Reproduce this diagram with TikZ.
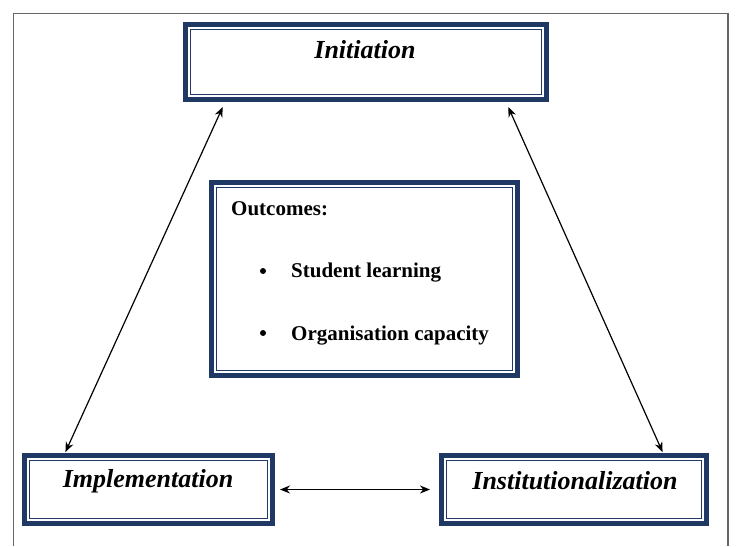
\documentclass[tikz,border=0pt]{standalone}
\usepackage{fontspec}
\setmainfont{Liberation Serif}
\usetikzlibrary{arrows.meta}
\definecolor{navy}{HTML}{1F3864}
\definecolor{framegray}{HTML}{666666}
\tikzset{
  stagebox/.style={draw=navy,line width=5pt,fill=white,inner sep=0pt},
  innerline/.style={draw=navy,line width=1.2pt},
  stagetext/.style={font=\fontsize{26}{30}\selectfont\bfseries\itshape},
  outtext/.style={font=\fontsize{21}{25}\selectfont\bfseries,anchor=base west,inner sep=0pt},
  link/.style={<->,line width=1.2pt}
}
\begin{document}
\begin{tikzpicture}[x=1pt,y=-1pt,>={Stealth[length=10pt,width=8pt]}]
    \useasboundingbox (0,0) rectangle (736,546);
    \draw[framegray,line width=1.5pt](13.5,546)--(13.5,13.5)--(728,13.5)--(728,546);
    % boxes
    \node[stagebox,minimum width=361pt,minimum height=75pt] (init) at (366,62) {};
    \node[stagebox,minimum width=248pt,minimum height=68pt] (impl) at (148.5,489.5) {};
    \node[stagebox,minimum width=265pt,minimum height=68pt] (inst) at (574,489.5) {};
    \node[stagebox,minimum width=306pt,minimum height=193pt] (outc) at (364.5,279) {};
    \foreach \n in {init,impl,inst,outc}
      \draw[innerline]([xshift=7.8pt,yshift=-7.8pt]\n.north west) rectangle ([xshift=-7.8pt,yshift=7.8pt]\n.south east);
    % texts
    \node[stagetext] (initlabel) at (365,50) {Initiation};
    \node[stagetext] (impllabel) at (148,481) {Implementation};
    \node[stagetext] (instlabel) at (575,481) {Institutionalization};
    \node[outtext] (outlabel) at (231,215) {Outcomes:};
    \node[outtext] (learn) at (291,277) {Student learning};
    \node[outtext] (capac) at (291,340) {Organisation capacity};
    \fill (263,271) circle(3pt) (263,333) circle(3pt);
    % links
    \draw[link,shorten <=5.5pt,shorten >=1pt]([xshift=42pt]init.south west)--([xshift=43pt]impl.north west);
    \draw[link,shorten <=5.5pt,shorten >=1pt]([xshift=-43pt]init.south east)--([xshift=-46pt]inst.north east);
    \draw[link,shorten <=5pt,shorten >=9pt](impl.east)--(inst.west);
\end{tikzpicture}
\end{document}
